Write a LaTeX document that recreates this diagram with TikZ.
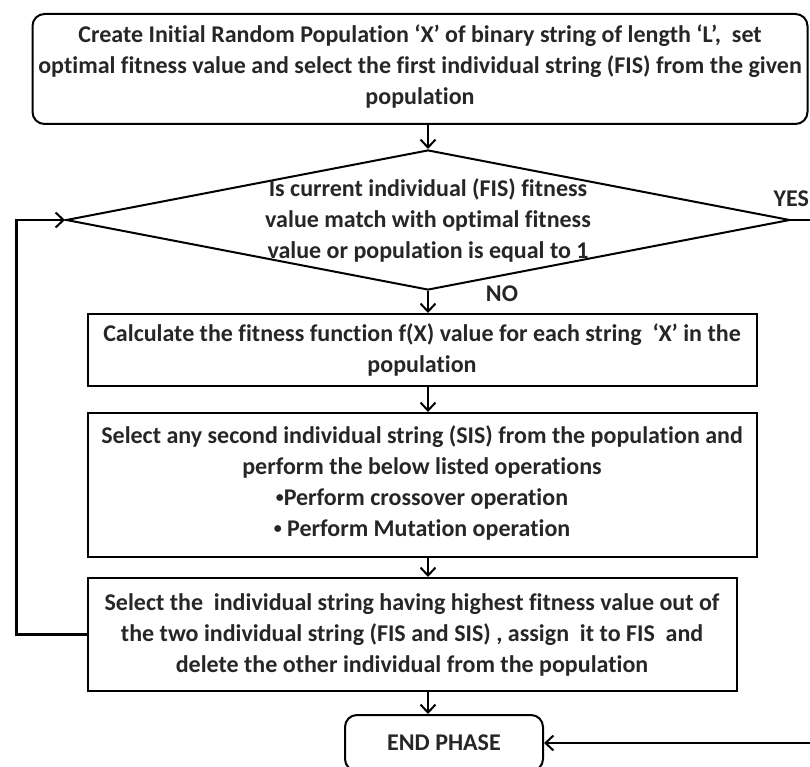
\documentclass[tikz,border=0pt]{standalone}
\usepackage{fontspec}
\setmainfont{Carlito}[Ligatures=NoCommon]
\usetikzlibrary{arrows.meta,shapes.geometric}
\newcommand{\smallbul}{\raisebox{2.5pt}{\fontsize{16}{31}\selectfont•}}

\begin{document}
\begin{tikzpicture}[
  x=1pt, y=-1pt,
  every node/.style={font=\fontsize{24}{31}\selectfont\bfseries, text=black!85},
  block/.style={draw, line width=2pt, minimum width=669pt, minimum height=72pt, align=center, inner sep=0pt},
  startbox/.style={block, rounded corners=12pt},
  decision/.style={draw, diamond, line width=2pt, inner sep=0pt, minimum width=724pt, minimum height=140pt},
  flow/.style={line width=2.2pt, -{Straight Barb[length=8pt,width=15pt,line width=2pt]}}
]
\useasboundingbox (0,0) rectangle (810,767);
\clip (0,0) rectangle (810,767);

% boxes
\node[startbox, anchor=north, minimum width=775pt, minimum height=110pt] (init) at (420,13)
  {Create Initial Random Population ‘X’ of binary string of length ‘L’,~ set\\
   optimal fitness value and select the first individual string (FIS) from the given\\
   population\rule[-9pt]{0pt}{9pt}};
\node[decision] (check) at (428,220) {};
\node[align=center, inner sep=0pt] (checktxt) at (check.center)
  {Is current individual (FIS) fitness\\
   value match with optimal fitness\\
   value or population is equal to 1};
\node[block, anchor=north] (fitness) at (422,313)
  {Calculate the fitness function f(X) value for each string~ ‘X’ in the\\
   population};
\node[block, anchor=north, minimum height=144pt] (select) at (422,412)
  {Select any second individual string (SIS) from the population and\\
   perform the below listed operations\\
   \smallbul Perform crossover operation\\
   \smallbul{} Perform Mutation operation\rule[-8pt]{0pt}{8pt}};
\node[block, anchor=north, minimum width=649pt, minimum height=113pt] (keep) at (412,577)
  {Select the~ individual string having highest fitness value out of\\
   the two individual string (FIS and SIS) , assign~ it to FIS~ and\\
   delete the other individual from the population};
\node[startbox, anchor=north, minimum width=198pt, minimum height=56pt] (finish) at (444,714)
  {END PHASE};

% labels
\node[anchor=east, inner sep=1pt] (yes) at (810,199) {YES};
\node (no) at (502,294) {NO};

% connectors
\draw[flow] (init.south -| check.north) -- (check.north);
\draw[flow] (check.south) -- (check.south |- fitness.north);
\draw[flow] (fitness.south -| check.south) -- (check.south |- select.north);
\draw[flow] (select.south -| check.south) -- (check.south |- keep.north);
\draw[flow] (keep.south -| check.south) -- (check.south |- finish.north);
\draw[flow] (keep.west) -- ++(-70,0) |- (check.west);
\draw[flow] (check.east) -- ++(60,0) |- (finish.east);
\end{tikzpicture}
\end{document}
